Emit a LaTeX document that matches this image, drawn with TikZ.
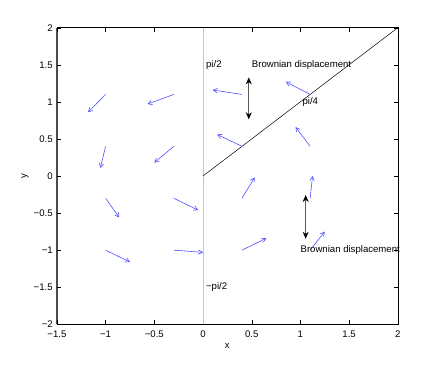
\documentclass[tikz,border=0pt]{standalone}
\usepackage{fontspec}
\setmainfont{Liberation Sans}
\usetikzlibrary{arrows.meta}
\definecolor{qblue}{RGB}{80,80,255}
\begin{document}
\begin{tikzpicture}[x=97.4pt,y=74.15pt,
  font=\fontsize{9.6}{11}\selectfont,
  quiv/.style={qblue, line width=0.6pt, -{Straight Barb[length=4pt,width=4.5pt]}},
  brown/.style={gray!70!black, line width=0.8pt,
    {Stealth[length=7pt,width=6pt,black]}-{Stealth[length=7pt,width=6pt,black]}},
  lbl/.style={anchor=west, inner sep=0pt},
  tickmark/.style={black, line width=0.4pt}]
\useasboundingbox (-203pt,-189pt) rectangle (236pt,176pt);
% frame
\draw[line width=0.5pt] (-1.5,-2) rectangle (2,2);
\draw[line width=2.5pt, gray!60!black] (-1.5,-2) -- (-1.5,2);
% ticks
\foreach \x/\t [count=\i] in {-1.5/−1.5,-1/−1,-0.5/−0.5,0/0,0.5/0.5,1/1,1.5/1.5,2/2}{
  \draw[tickmark] (\x,-2) -- ++(0,4pt);
  \draw[tickmark] (\x,2) -- ++(0,-4pt);
  \node[anchor=north, inner sep=0pt] (xt\i) at ([yshift=-6pt]\x,-2) {\t};
}
\foreach \y/\t [count=\i] in {-2/−2,-1.5/−1.5,-1/−1,-0.5/−0.5,0/0,0.5/0.5,1/1,1.5/1.5,2/2}{
  \draw[tickmark] (-1.5,\y) -- ++(4pt,0);
  \draw[tickmark] (2,\y) -- ++(-4pt,0);
  \node[anchor=east, inner sep=0pt] (yt\i) at ([xshift=-4pt]-1.5,\y) {\t};
}
\node (xlab) at (0.25,-169.7pt) {x};
\node[rotate=90] (ylab) at (-178pt,0) {y};
% reference lines
\draw[gray!45, line width=1pt] (0,-2) -- (0,2);
\draw[line width=0.5pt] (0,0) -- (2,2);
% quiver
\foreach \a/\b/\c/\d [count=\i] in {
  -1/1.1/-1.18/0.86, -0.3/1.1/-0.57/0.97, -1/0.4/-1.054/0.11, -0.3/0.4/-0.50/0.18,
  -1/-0.3/-0.86/-0.56, -0.3/-0.3/-0.05/-0.46, -1/-1/-0.75/-1.16, -0.3/-1/0/-1.03,
  0.4/1.1/0.1/1.16, 1.1/1.1/0.85/1.27, 0.4/0.4/0.147/0.56, 1.1/0.4/0.95/0.66,
  0.4/-0.3/0.53/-0.02, 1.1/-0.3/1.125/0.0, 0.4/-1/0.65/-0.84, 1.1/-1/1.25/-0.75}{
  \coordinate (q\i s) at (\a,\b);
  \coordinate (q\i e) at (\c,\d);
  \draw[quiv] (q\i s) -- (q\i e);
}
% Brownian displacement arrows
\coordinate (b1t) at (0.47,1.33);
\coordinate (b1b) at (0.47,0.765);
\coordinate (b2t) at (1.054,-0.256);
\coordinate (b2b) at (1.054,-0.846);
\draw[brown] (b1t) -- (b1b);
\draw[brown] (b2t) -- (b2b);
% labels
\node[lbl] (pi2) at (0.03,1.5) {pi/2};
\node[lbl] (pi4) at (1.02,1.0) {pi/4};
\node[lbl] (mpi2) at (0.03,-1.5) {−pi/2};
\node[lbl] (bd1) at (0.5,1.5) {Brownian displacement};
\node[lbl] (bd2) at (1.0,-1.0) {Brownian displacement};
\end{tikzpicture}
\end{document}
